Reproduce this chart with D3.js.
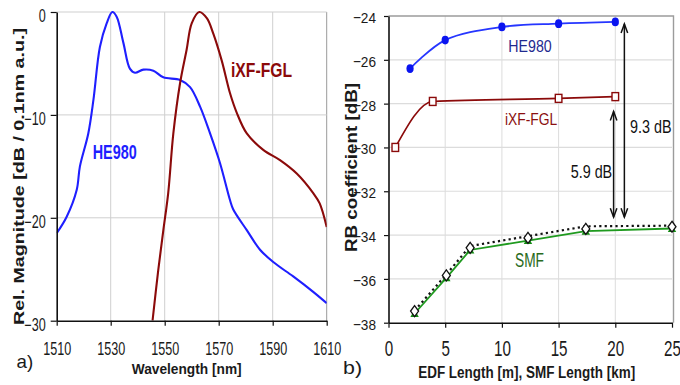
<!DOCTYPE html>
<html>
<head>
<meta charset="utf-8">
<script src="https://cdn.jsdelivr.net/npm/d3@7"></script>
<style>
  html, body { margin: 0; padding: 0; background: #fff; }
  svg { display: block; font-family: "Liberation Sans", Arial, Helvetica, sans-serif; }
</style>
</head>
<body>
<svg id="chart" width="680" height="385"></svg>
<script>
// ---- Panel a): emission spectra ----
const wlTicks = [1510, 1530, 1550, 1570, 1590, 1610];
const magTicks = [0, -10, -20, -30];

const he980Wl = [1510, 1513.7, 1517.4, 1518.6, 1521.7, 1523.6, 1526, 1528.5, 1530.6, 1532.2, 1534.7, 1537.1, 1539,
  1542.1, 1545.8, 1549.5, 1555.7, 1559.4, 1563.1, 1566.8, 1570.5, 1574.2, 1575.4, 1580.4, 1585.3, 1590.2, 1597.6, 1605, 1610];
const he980Db = [-21.5, -19.9, -17.3, -15.0, -11.8, -8.55, -3.4, -1.1, 0, -0.45, -3.0, -5.5, -5.9,
  -5.6, -5.7, -6.35, -6.6, -7.3, -9.2, -11.8, -14.7, -18.3, -19.2, -21.2, -23.1, -24.3, -25.7, -27.2, -28.3];

const ixfWl = [1545.5, 1547.6, 1549.5, 1551.3, 1553.2, 1555.7, 1558.1, 1560, 1562.8, 1565.6, 1568, 1571.1, 1574.2,
  1576.7, 1580.4, 1586.5, 1592.7, 1598.9, 1605, 1607.4, 1610];
const ixfDb = [-30, -25.1, -21.2, -17.6, -11.8, -6.9, -3.7, -1.1, 0, -0.6, -2.1, -4.7, -7.9,
  -9.8, -11.8, -13.4, -14.4, -15.7, -17.6, -18.6, -20.9];

// ---- Panel b): RB coefficient vs length ----
const lenTicks = [0, 5, 10, 15, 20, 25];
const rbTicks = [-24, -26, -28, -30, -32, -34, -36, -38];

const he980Len = [1.9, 5, 10, 15, 20];
const he980Rb = [-26.4, -25.1, -24.5, -24.35, -24.27];

const ixfLen = [0.6, 3.9, 15, 20];
const ixfRb = [-30.0, -27.9, -27.76, -27.68];

const smfLen = [2.3, 5.1, 7.2, 12.3, 17.4, 25];
const smfRb = [-37.58, -35.95, -34.68, -34.25, -33.82, -33.7];        // green series
const smfMeasRb = [-37.47, -35.84, -34.58, -34.13, -33.72, -33.62];   // white diamonds
const smfFitRb = [-37.45, -35.8, -34.5, -34.05, -33.6, -33.57];       // dotted line

const smfLevel = -33.57;
const gapValues = [5.9, 9.3];
const gapLabels = ["5.9 dB", "9.3 dB"];

// ---------------------------------------------------------------
const svg = d3.select("#chart");

function zip(xs, ys) { return xs.map((v, i) => [v, ys[i]]); }

// narrows tick labels horizontally
function styleTicks(g, size, sx, dy, yBase) {
  g.selectAll(".tick text")
    .attr("font-size", size)
    .attr("fill", "#1a1a1a")
    .each(function () {
      const t = d3.select(this);
      const x0 = +t.attr("x") || 0;
      t.attr("x", x0 / sx).attr("transform", `scale(${sx},1)`);
      if (yBase !== undefined) t.attr("y", yBase).attr("dy", "0");
      else t.attr("dy", dy);
    });
  g.selectAll(".tick line").attr("stroke", "#111").attr("stroke-width", 1.2);
  g.select(".domain").attr("stroke", "#111").attr("stroke-width", 1.6);
}

// ===== Panel a) =====
const xa = d3.scaleLinear().domain([1510, 1610]).range([56.7, 326.7]);
const ya = d3.scaleLinear().domain([0, -30]).range([12, 320.7]);

const ga = svg.append("g");
// grid
ga.append("g").selectAll("line").data(wlTicks.slice(1)).join("line")
  .attr("x1", d => xa(d)).attr("x2", d => xa(d)).attr("y1", ya(0)).attr("y2", ya(-30))
  .attr("stroke", d => d === 1610 ? "#9a9a9a" : "#cfcfcf").attr("stroke-width", 1);
ga.append("g").selectAll("line").data(magTicks.slice(0, 3)).join("line")
  .attr("x1", xa(1510)).attr("x2", xa(1610)).attr("y1", d => ya(d)).attr("y2", d => ya(d))
  .attr("stroke", "#cfcfcf").attr("stroke-width", 1);

ga.append("clipPath").attr("id", "clipA").append("rect")
  .attr("x", xa(1510)).attr("y", ya(0) - 3).attr("width", xa(1610) - xa(1510)).attr("height", ya(-30) - ya(0) + 3);

const lineA = d3.line().x(d => xa(d[0])).y(d => ya(d[1])).curve(d3.curveCatmullRom);
ga.append("path").attr("clip-path", "url(#clipA)").attr("d", lineA(zip(he980Wl, he980Db)))
  .attr("fill", "none").attr("stroke", "#1f1fff").attr("stroke-width", 2.1);
ga.append("path").attr("clip-path", "url(#clipA)").attr("d", lineA(zip(ixfWl, ixfDb)))
  .attr("fill", "none").attr("stroke", "#8b0a0a").attr("stroke-width", 2.1);

const axAx = ga.append("g").attr("transform", `translate(0,${ya(-30)})`)
  .call(d3.axisBottom(xa).tickValues(wlTicks).tickSize(5).tickSizeOuter(0).tickFormat(d3.format("d")));
styleTicks(axAx, 17.5, 0.72, null, 34.3);
const ayAx = ga.append("g").attr("transform", `translate(${xa(1510)},0)`)
  .call(d3.axisLeft(ya).tickValues(magTicks).tickSize(6).tickPadding(5).tickSizeOuter(0));
styleTicks(ayAx, 17.5, 0.72, "0.55em");

ga.append("text").attr("x", 186.7).attr("y", 374.3).attr("text-anchor", "middle")
  .attr("font-weight", "bold").attr("font-size", 15).attr("fill", "#1a1a1a")
  .attr("textLength", 110).attr("lengthAdjust", "spacingAndGlyphs").text("Wavelength [nm]");
ga.append("text").attr("transform", "translate(24,176.5) rotate(-90)").attr("text-anchor", "middle")
  .attr("font-weight", "bold").attr("font-size", 15).attr("fill", "#1a1a1a")
  .attr("textLength", 297).attr("lengthAdjust", "spacingAndGlyphs").text("Rel. Magnitude [dB / 0.1nm a.u.]");
ga.append("text").attr("x", 16.5).attr("y", 368).attr("font-size", 19).attr("fill", "#1a1a1a")
  .attr("textLength", 16.7).attr("lengthAdjust", "spacingAndGlyphs").text("a)");

ga.append("text").attr("x", 92.7).attr("y", 159.3).attr("font-weight", "bold").attr("font-size", 21)
  .attr("fill", "#1f1fff").attr("textLength", 44).attr("lengthAdjust", "spacingAndGlyphs").text("HE980");
ga.append("text").attr("x", 231).attr("y", 77.3).attr("font-weight", "bold").attr("font-size", 19.5)
  .attr("fill", "#8b0a0a").attr("textLength", 61).attr("lengthAdjust", "spacingAndGlyphs").text("iXF-FGL");

// ===== Panel b) =====
const xb = d3.scaleLinear().domain([0, 25]).range([388.5, 672]);
const yb = d3.scaleLinear().domain([-24, -38]).range([16, 322.7]);
const gb = svg.append("g");

gb.append("g").selectAll("line").data(lenTicks.slice(1, 5)).join("line")
  .attr("x1", d => xb(d)).attr("x2", d => xb(d)).attr("y1", yb(-24)).attr("y2", yb(-38))
  .attr("stroke", "#dcdcdc").attr("stroke-width", 1);
gb.append("g").selectAll("line").data(rbTicks.slice(1, 7)).join("line")
  .attr("x1", xb(0)).attr("x2", xb(25)).attr("y1", d => yb(d)).attr("y2", d => yb(d))
  .attr("stroke", "#dcdcdc").attr("stroke-width", 1.2);
// plot frame (top, right)
gb.append("path").attr("d", `M${xb(0)},${yb(-24)}H${xb(25) + 1.5}V${yb(-38)}`)
  .attr("fill", "none").attr("stroke", "#9c9c9c").attr("stroke-width", 1.4);

const smooth = d3.line().x(d => xb(d[0])).y(d => yb(d[1])).curve(d3.curveCatmullRom);
const monotone = d3.line().x(d => xb(d[0])).y(d => yb(d[1])).curve(d3.curveMonotoneX);
const straight = d3.line().x(d => xb(d[0])).y(d => yb(d[1]));

// HE980
gb.append("path").attr("d", smooth(zip(he980Len, he980Rb)))
  .attr("fill", "none").attr("stroke", "#2636ff").attr("stroke-width", 1.8);
gb.append("g").selectAll("ellipse").data(zip(he980Len, he980Rb)).join("ellipse")
  .attr("cx", d => xb(d[0])).attr("cy", d => yb(d[1])).attr("rx", 3.6).attr("ry", 4.4)
  .attr("fill", "#0a14f0");

// iXF-FGL
gb.append("path").attr("d", monotone(zip(ixfLen, ixfRb)))
  .attr("fill", "none").attr("stroke", "#8b0a0a").attr("stroke-width", 1.6);
gb.append("g").selectAll("rect").data(zip(ixfLen, ixfRb)).join("rect")
  .attr("x", d => xb(d[0]) - 3.3).attr("y", d => yb(d[1]) - 4).attr("width", 6.6).attr("height", 8)
  .attr("fill", "#fff").attr("stroke", "#8b0a0a").attr("stroke-width", 1.4);

// SMF
gb.append("path").attr("d", straight(zip(smfLen, smfRb)))
  .attr("fill", "none").attr("stroke", "#1f9a1f").attr("stroke-width", 1.8);
gb.append("g").selectAll("path").data(zip(smfLen, smfRb)).join("path")
  .attr("d", d => { const cx = xb(d[0]), cy = yb(d[1]); return `M${cx},${cy - 4}L${cx + 4.2},${cy + 3.5}L${cx - 4.2},${cy + 3.5}Z`; })
  .attr("fill", "#128a12");
gb.append("path").attr("d", straight(zip(smfLen, smfFitRb)))
  .attr("fill", "none").attr("stroke", "#111").attr("stroke-width", 2.2).attr("stroke-dasharray", "2.2,3.2");
gb.append("g").selectAll("path").data(zip(smfLen, smfMeasRb)).join("path")
  .attr("d", d => { const cx = xb(d[0]), cy = yb(d[1]); return `M${cx},${cy - 5.5}L${cx + 4},${cy}L${cx},${cy + 5.5}L${cx - 4},${cy}Z`; })
  .attr("fill", "#fff").attr("stroke", "#111").attr("stroke-width", 1.3);

// axes
const bxAx = gb.append("g").attr("transform", `translate(0,${yb(-38)})`)
  .call(d3.axisBottom(xb).tickValues(lenTicks).tickSize(5).tickSizeOuter(0));
styleTicks(bxAx, 22, 0.69, null, 33.3);
const byAx = gb.append("g").attr("transform", `translate(${xb(0)},0)`)
  .call(d3.axisLeft(yb).tickValues(rbTicks).tickSize(4.5).tickPadding(8).tickSizeOuter(0));
styleTicks(byAx, 15.5, 0.88, "0.42em");

gb.append("text").attr("x", 526.7).attr("y", 377.5).attr("text-anchor", "middle")
  .attr("font-weight", "bold").attr("font-size", 16).attr("fill", "#1a1a1a")
  .attr("textLength", 217).attr("lengthAdjust", "spacingAndGlyphs").text("EDF Length [m], SMF Length [km]");
gb.append("text").attr("transform", "translate(357,167.5) rotate(-90)").attr("text-anchor", "middle")
  .attr("font-weight", "bold").attr("font-size", 16).attr("fill", "#1a1a1a")
  .attr("textLength", 169).attr("lengthAdjust", "spacingAndGlyphs").text("RB coefficient [dB]");
gb.append("text").attr("x", 343).attr("y", 374).attr("font-size", 19).attr("fill", "#1a1a1a")
  .attr("textLength", 19).attr("lengthAdjust", "spacingAndGlyphs").text("b)");

gb.append("text").attr("x", 508.3).attr("y", 51.7).attr("font-size", 16).attr("fill", "#1f2a8f")
  .attr("textLength", 43.4).attr("lengthAdjust", "spacingAndGlyphs").text("HE980");
gb.append("text").attr("x", 505).attr("y", 125).attr("font-size", 17).attr("fill", "#8b1010")
  .attr("textLength", 52.3).attr("lengthAdjust", "spacingAndGlyphs").text("iXF-FGL");
gb.append("text").attr("x", 515).attr("y", 267.3).attr("font-size", 20).attr("fill", "#2a6a1c")
  .attr("textLength", 29).attr("lengthAdjust", "spacingAndGlyphs").text("SMF");

// level-difference arrows
const arrows = [
  { x: 19.85, value: gapValues[0], label: gapLabels[0], topInset: 15, lx: 570.7, ly: 178.3 },
  { x: 20.8, value: gapValues[1], label: gapLabels[1], topInset: 2, lx: 630, ly: 133 }
];
const ga2 = gb.append("g").attr("stroke", "#111").attr("stroke-width", 1.5).attr("fill", "none");
arrows.forEach(a => {
  const x = xb(a.x);
  const yBot = yb(smfLevel) - 8.5;
  const yTop = yb(smfLevel + a.value) + a.topInset;
  ga2.append("line").attr("x1", x).attr("x2", x).attr("y1", yTop).attr("y2", yBot);
  ga2.append("path").attr("d", `M${x - 3.3},${yTop + 9}L${x},${yTop}L${x + 3.3},${yTop + 9}`);
  ga2.append("path").attr("d", `M${x - 3.3},${yBot - 9}L${x},${yBot}L${x + 3.3},${yBot - 9}`);
  gb.append("text").attr("x", a.lx).attr("y", a.ly).attr("font-size", 17.5).attr("fill", "#111")
    .attr("textLength", 41.5).attr("lengthAdjust", "spacingAndGlyphs").text(a.label);
});
</script>
</body>
</html>
